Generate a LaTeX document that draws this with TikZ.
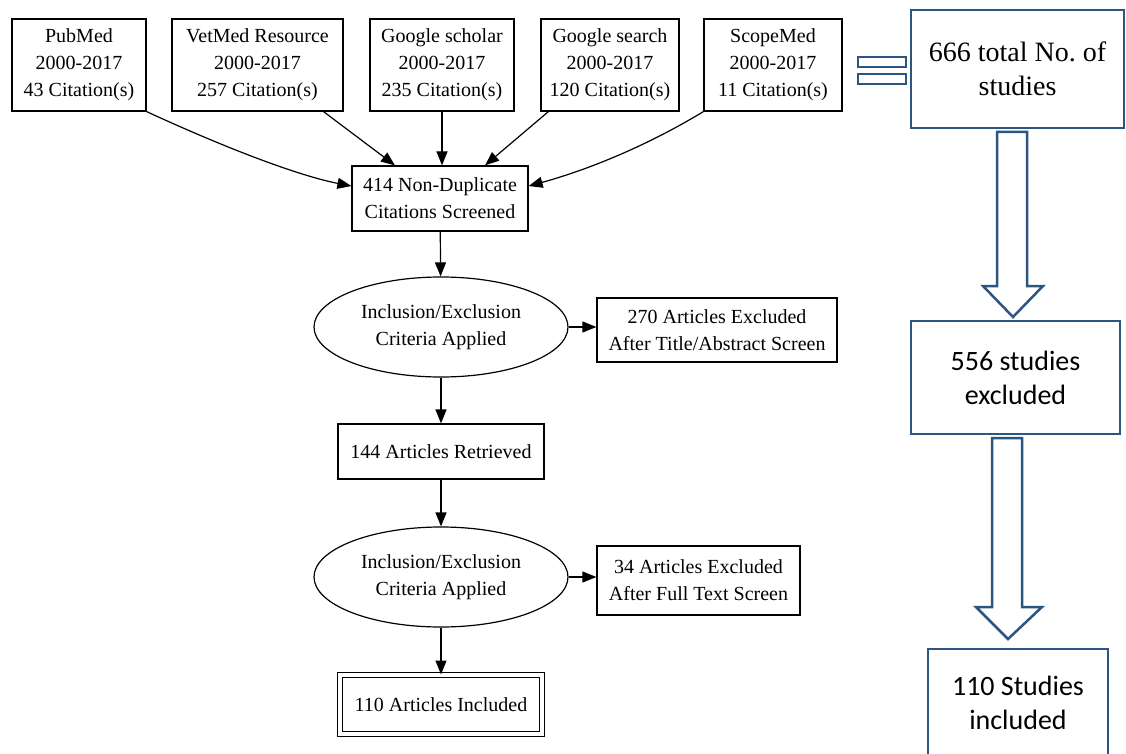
\documentclass[tikz,border=0pt]{standalone}
\usepackage{fontspec}
\setmainfont{Liberation Serif}
\newfontfamily\calib{Carlito}
\usetikzlibrary{arrows.meta,shapes.geometric}
\definecolor{boxblue}{RGB}{45,85,130}

\begin{document}
\begin{tikzpicture}[x=1pt, y=-1pt, line width=1.2pt,
  font=\fontsize{20}{27}\selectfont,
  box/.style={draw, align=center, inner sep=0pt},
  crit/.style={draw, ellipse, align=center, inner sep=0pt, minimum width=254pt, minimum height=100pt},
  flow/.style={-{Triangle[length=14pt,width=11pt]}},
  bigbox/.style={draw=boxblue, line width=2.5pt, align=center, inner sep=0pt, font=\fontsize{28}{34}\selectfont},
  fat/.style={draw=boxblue, fill=white, line width=2.5pt}]
  \useasboundingbox (0,0) rectangle (1126,754);

  % sources
  \node[box, minimum width=134pt, minimum height=92pt] (A) at (79,65) {PubMed\\2000-2017\\43 Citation(s)};
  \node[box, minimum width=171pt, minimum height=92pt] (B) at (257.5,65) {VetMed Resource\\2000-2017\\257 Citation(s)};
  \node[box, minimum width=144pt, minimum height=92pt] (C) at (442,65) {Google scholar\\2000-2017\\235 Citation(s)};
  \node[box, minimum width=138pt, minimum height=92pt] (D) at (610,65) {Google search\\2000-2017\\120 Citation(s)};
  \node[box, minimum width=138pt, minimum height=92pt] (E) at (773,65) {ScopeMed\\2000-2017\\11 Citation(s)};

  \node[box, minimum width=176pt, minimum height=65pt] (F) at (440,198.5) {414 Non-Duplicate\\Citations Screened};
  \node[crit] (G) at (441,327) {Inclusion/Exclusion\\Criteria Applied};
  \node[box, minimum width=240pt, minimum height=64pt] (H) at (717,330) {270 Articles Excluded\\After Title/Abstract Screen};
  \node[box, minimum width=206pt, minimum height=55pt] (I) at (441,451.5) {144 Articles Retrieved};
  \node[crit] (J) at (441,577) {Inclusion/Exclusion\\Criteria Applied};
  \node[box, minimum width=203pt, minimum height=69pt] (K) at (698.5,580.5) {34 Articles Excluded\\After Full Text Screen};
  \node[box, double, double distance=3.5pt, line width=1pt, minimum width=202pt, minimum height=59pt] (L) at (441,704.5) {110 Articles Included};

  \draw[flow] (A.south east) .. controls (230,150) and (300,176) .. (F.172);
  \draw[flow] ([xshift=66pt]B.south) -- ([xshift=-45pt]F.north);
  \draw[flow] (C.south) -- (C.south |- F.north);
  \draw[flow] ([xshift=8pt]D.south west) -- ([xshift=45pt]F.north);
  \draw[flow] (E.south west) .. controls (640,150) and (580,172) .. (F.8);

  \draw[flow] (F) -- (G);
  \draw[flow] (G.east) -- (G.east -| H.west);
  \draw[flow] (G) -- (I);
  \draw[flow] (I) -- (J);
  \draw[flow] (J.east) -- (J.east -| K.west);
  \draw[flow] (J) -- (L);

  % summary column
  \node[bigbox, minimum width=213pt, minimum height=118pt] (M) at (1017.5,69) {666 total No.\ of\\studies};
  \node[bigbox, minimum width=209pt, minimum height=113pt] (N) at (1015.5,377.5) {\calib 556 studies\\\calib excluded};
  \node[bigbox, minimum width=180pt, minimum height=108pt] (O) at (1018,703) {\calib 110 Studies\\\calib included};

  \draw[boxblue, line width=2.5pt] (858,57) rectangle (906,67);
  \draw[boxblue, line width=2.5pt] (858,74) rectangle (906,84);

  \draw[fat] (997,132) -- (1027,132) -- (1027,286) -- (1043,286) -- (1013,317) -- (983,286) -- (997,286) -- cycle;
  \draw[fat] (992,438) -- (1022,438) -- (1022,607) -- (1042,607) -- (1008,639) -- (976,607) -- (992,607) -- cycle;
\end{tikzpicture}
\end{document}
